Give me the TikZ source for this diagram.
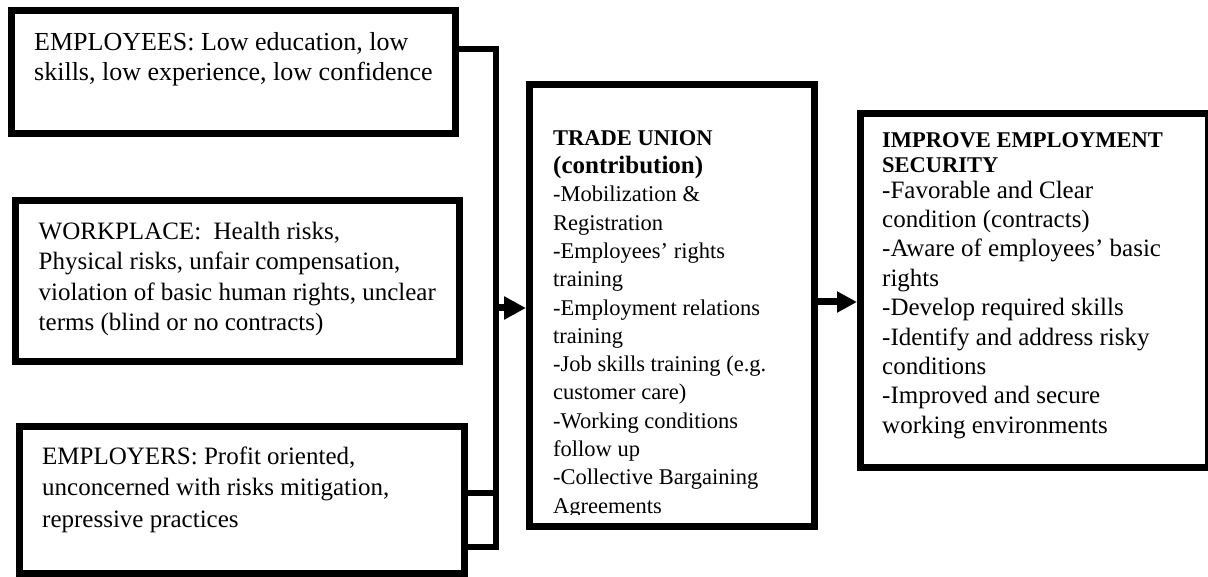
\documentclass[tikz,border=0pt]{standalone}
\usepackage{fontspec}
\setmainfont{Liberation Serif}
\usetikzlibrary{arrows.meta,positioning}

\begin{document}
\begin{tikzpicture}[x=1pt, y=-1pt,
    box/.style = {draw, line width=7pt, inner sep=0pt},
    txt/.style = {anchor=north west, inner sep=0pt, align=left},
    link/.style = {line width=6pt},
    flow/.style = {line width=7pt, -{Triangle[length=22pt, width=22pt]}}]
  \useasboundingbox (0,0) rectangle (1208,577);

  % causes on the left
  \node[box, minimum width=444pt, minimum height=123pt] (employees) at (233.5,72) {};
  \node[box, minimum width=444pt, minimum height=161pt] (workplace) at (237.5,281) {};
  \node[box, minimum width=445pt, minimum height=147pt] (employers) at (242,500) {};

  \node[txt, font=\fontsize{26}{30}\selectfont] (employeestext) at (34,29)
    {\strut EMPLOYEES: Low education, low\\ skills, low experience, low confidence};
  \node[txt, font=\fontsize{25}{30.5}\selectfont] (workplacetext) at (38.5,217.6)
    {\strut WORKPLACE:\ \ Health risks,\\ Physical risks, unfair compensation,\\
     violation of basic human rights, unclear\\ terms (blind or no contracts)};
  \node[txt, font=\fontsize{25}{31.5}\selectfont] (employerstext) at (42,442)
    {\strut EMPLOYERS: Profit oriented,\\ unconcerned with risks mitigation,\\ repressive practices};

  % trade union and outcome
  \node[box, minimum width=285pt, minimum height=442pt] (union) at (672,305.5) {};
  \node[box, minimum width=348pt, minimum height=354pt] (outcome) at (1034.5,290.5) {};

  \begin{scope}
    \clip (533,88) rectangle (811,514.5);
    \node[txt, font=\fontsize{22.5}{28.3}\selectfont] (uniontext) at (553,125.2)
      {\strut\textbf{TRADE UNION}\\ {\fontsize{25}{28.3}\selectfont\bfseries (contribution)}\\
       -Mobilization \&\\ Registration\\ -Employees’ rights\\ training\\
       -Employment relations\\ training\\ -Job skills training (e.g.\\ customer care)\\
       -Working conditions\\ follow up\\ -Collective Bargaining\\ Agreements};
  \end{scope}

  \node[txt, font=\fontsize{22.5}{25}\selectfont\bfseries] (outcomehead) at (882,129.5)
    {\strut IMPROVE EMPLOYMENT\\ SECURITY};
  \node[txt, font=\fontsize{25}{29.4}\selectfont] (outcometext) at (882,177.4)
    {\strut -Favorable and Clear\\ condition (contracts)\\ -Aware of employees’ basic\\ rights\\
     -Develop required skills\\ -Identify and address risky\\ conditions\\
     -Improved and secure\\ working environments};

  % connectors
  \coordinate (jtop) at (496,49.5);
  \coordinate (jmid) at (496,493);
  \coordinate (jarr) at (496,308);
  \coordinate (jbot) at (496,547);

  \draw[link] (employees.east |- jtop) -- (jtop) -- (jbot) -- (employers.east |- jbot);
  \draw[link] (employers.east |- jmid) -- (jmid);
  \draw[flow] (jarr) -- (union.west |- jarr);
  \draw[flow, -{Triangle[length=20pt, width=20pt]}] ([yshift=3.5pt]union.east)
    -- ([yshift=3.5pt]union.east -| outcome.west);
\end{tikzpicture}
\end{document}
